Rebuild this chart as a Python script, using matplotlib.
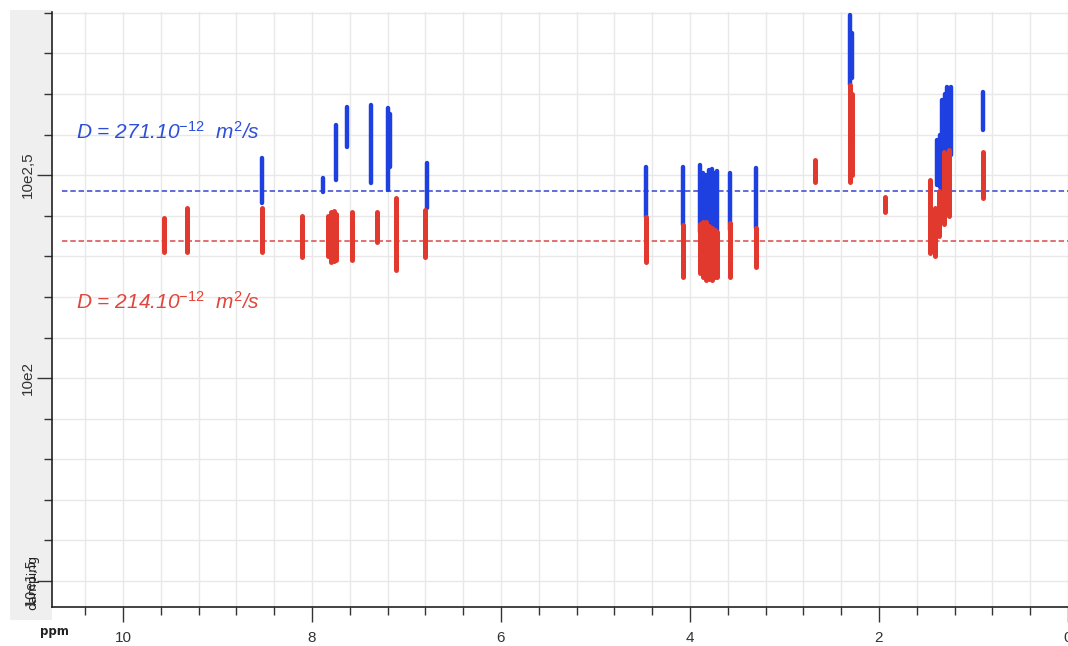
import matplotlib
matplotlib.use("Agg")
import matplotlib.pyplot as plt
from matplotlib.patches import Rectangle
from matplotlib.ticker import MultipleLocator, FixedLocator

plt.rcParams["mathtext.fontset"] = "custom"
plt.rcParams["mathtext.it"] = "Liberation Sans:italic"
plt.rcParams["mathtext.rm"] = "Liberation Sans"
plt.rcParams["mathtext.default"] = "it"

# Spectre DOSY : taches par composante (ppm, log10 D bas, log10 D haut)
BLUE_PPM = [8.53, 7.88, 7.75, 7.63, 7.38, 7.19, 7.17, 6.78,
            4.46, 4.07, 3.89, 3.86, 3.83, 3.80, 3.77, 3.74, 3.71, 3.58, 3.30,
            2.31, 2.29, 1.39, 1.35, 1.33, 1.30, 1.28, 1.24, 0.90]
BLUE_LO = [2.431, 2.458, 2.488, 2.569, 2.480, 2.463, 2.520, 2.419,
           2.397, 2.377, 2.360, 2.355, 2.350, 2.345, 2.350, 2.355, 2.360, 2.365, 2.369,
           2.722, 2.740, 2.475, 2.470, 2.463, 2.500, 2.540, 2.550, 2.611]
BLUE_HI = [2.542, 2.493, 2.623, 2.667, 2.672, 2.665, 2.650, 2.530,
           2.520, 2.520, 2.525, 2.505, 2.500, 2.512, 2.515, 2.505, 2.510, 2.505, 2.517,
           2.894, 2.850, 2.586, 2.600, 2.685, 2.700, 2.717, 2.717, 2.704]

RED_PPM = [9.56, 9.32, 8.53, 8.11, 7.83, 7.80, 7.77, 7.74, 7.58, 7.31, 7.11, 6.80,
           4.46, 4.07, 3.89, 3.86, 3.83, 3.80, 3.77, 3.74, 3.71, 3.58, 3.30,
           2.68, 2.31, 2.29, 1.94, 1.46, 1.41, 1.36, 1.31, 1.26, 0.90]
RED_LO = [2.310, 2.310, 2.310, 2.298, 2.300, 2.286, 2.288, 2.292, 2.291, 2.335, 2.266, 2.298,
          2.286, 2.249, 2.260, 2.250, 2.241, 2.245, 2.242, 2.250, 2.250, 2.249, 2.273,
          2.483, 2.483, 2.500, 2.409, 2.308, 2.300, 2.350, 2.380, 2.400, 2.443]
RED_HI = [2.394, 2.419, 2.419, 2.399, 2.400, 2.409, 2.412, 2.405, 2.409, 2.409, 2.443, 2.414,
          2.397, 2.377, 2.380, 2.384, 2.384, 2.375, 2.370, 2.365, 2.360, 2.382, 2.369,
          2.537, 2.722, 2.700, 2.446, 2.488, 2.420, 2.460, 2.557, 2.562, 2.557]

# coefficients de diffusion moyens (log10)
D_BLUE = 2.461
D_RED = 2.337
LABEL_BLUE = r"$D$ = 271.10$^{-12}$  m$^{2}$/s"
LABEL_RED = r"$D$ = 214.10$^{-12}$  m$^{2}$/s"

Y_TICKS = [2.0, 2.5]
Y_TICKLABELS = ["10e2", "10e2,5"]
X_TICKS = [10, 8, 6, 4, 2, 0]

BLUE = "#1e40e0"
RED = "#e2392e"

fig = plt.figure(figsize=(10.68, 6.46), dpi=100)
fig.patches.append(Rectangle((0.009, 0.04), 0.04, 0.945, transform=fig.transFigure,
                             facecolor="#efefef", edgecolor="none", zorder=-5))
ax = fig.add_axes([0.0487, 0.0604, 0.9513, 0.921])

ax.set_xlim(10.75, 0)
ax.set_ylim(1.436, 2.902)

ax.xaxis.set_major_locator(FixedLocator(X_TICKS))
ax.xaxis.set_minor_locator(MultipleLocator(0.4))
ax.yaxis.set_major_locator(FixedLocator(Y_TICKS + [1.5]))
ax.yaxis.set_minor_locator(MultipleLocator(0.1))
ax.set_yticklabels(Y_TICKLABELS + [""])
ax.set_xticklabels([str(v) for v in X_TICKS])
ax.tick_params(axis="both", which="major", length=11, width=1, color="#333333",
               labelsize=11, labelcolor="#333333")
ax.tick_params(axis="both", which="minor", length=6, width=1, color="#333333")
ax.tick_params(axis="x", pad=6)
ax.tick_params(axis="y", pad=1)
for lab in ax.get_yticklabels() + ax.get_xticklabels():
    lab.set_family(["Liberation Sans", "DejaVu Sans"])
for lab in ax.get_yticklabels():
    lab.set_rotation(90)
    lab.set_va("center")

ax.grid(True, which="both", color="#e8e8e8", linewidth=1)
ax.set_axisbelow(True)
for s in ["top", "right"]:
    ax.spines[s].set_visible(False)
for s in ["left", "bottom"]:
    ax.spines[s].set_color("#222222")
    ax.spines[s].set_linewidth(1.2)

ax.axhline(D_BLUE, xmin=(10.75 - 10.645) / 10.75, color="#5560d8", lw=1.3,
           dashes=(3, 1.6), zorder=2)
ax.axhline(D_RED, xmin=(10.75 - 10.645) / 10.75, color="#e06464", lw=1.3,
           dashes=(3, 1.6), zorder=2)

ax.vlines(BLUE_PPM, BLUE_LO, BLUE_HI, colors=BLUE, linewidth=3.2,
          capstyle="round", zorder=3)
ax.vlines(RED_PPM, RED_LO, RED_HI, colors=RED, linewidth=3.6,
          capstyle="round", zorder=3)

ax.text(10.5, 2.606, LABEL_BLUE, color="#2d4fd6", fontsize=15, style="italic",
        family="Liberation Sans", va="center", ha="left")
ax.text(10.5, 2.189, LABEL_RED, color="#e0463c", fontsize=15, style="italic",
        family="Liberation Sans", va="center", ha="left")

fig.text(40 / 1068, 1 - 632 / 646, "ppm", fontsize=8.5, fontweight="bold",
         ha="left", va="center", color="#222222")
fig.text(30 / 1068, 1 - 582 / 646, "10e1,5", fontsize=10, rotation=90,
         ha="center", va="center", color="#333333")
fig.text(33 / 1068, 1 - 582 / 646, "damping", fontsize=9, rotation=90,
         ha="center", va="center", color="#222222")

fig.savefig("out.png", dpi=100)
